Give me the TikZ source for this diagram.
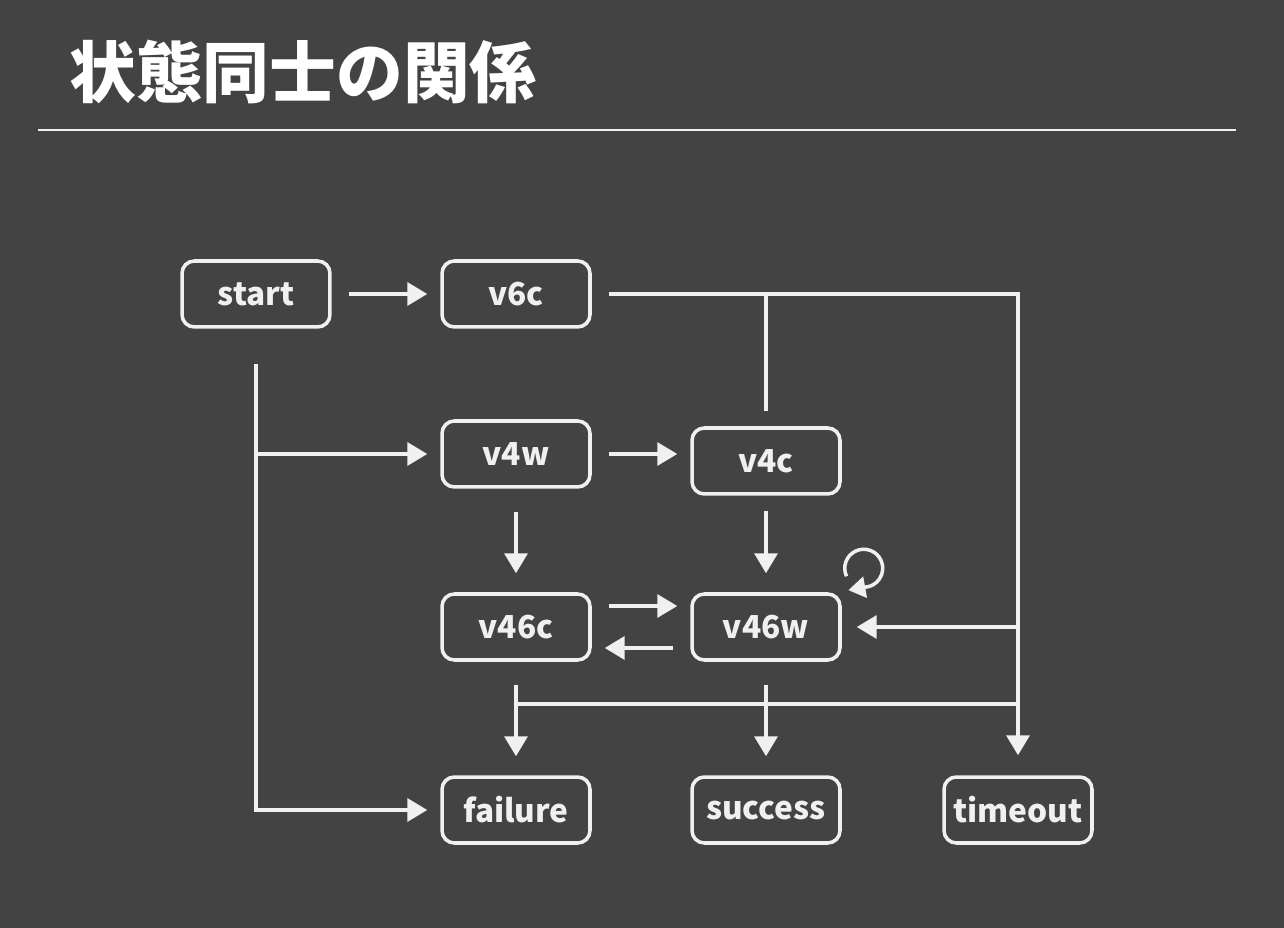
\documentclass[tikz,border=0pt]{standalone}
\usepackage{fontspec}
\setmainfont{Noto Sans CJK JP}
\usetikzlibrary{arrows.meta}
\definecolor{board}{HTML}{434343}
\definecolor{chalk}{HTML}{F0F0F0}

\begin{document}
\begin{tikzpicture}[x=0.02cm,y=-0.02cm,
    state/.style={draw=chalk,line width=2pt,rounded corners=7pt,minimum width=2.96cm,minimum height=1.32cm,text=chalk,font=\bfseries\fontsize{18}{20}\selectfont},
    link/.style={draw=chalk,line width=2pt},
    arr/.style={link,-{Triangle[length=0.4cm,width=0.46cm]}},
    hgap/.style={shorten <=0.34cm,shorten >=0.26cm},
    vgap/.style={shorten <=0.46cm,shorten >=0.38cm}]
    \fill[board] (0,0) rectangle (1284,928);
    \node[text=white,font=\bfseries\fontsize{38}{40}\selectfont] (title) at (303,72) {状態同士の関係};
    \coordinate (rulel) at (38,130);
    \coordinate (ruler) at (1236,130);
    \draw[chalk,line width=1.2pt] (rulel)--(ruler);

    \node[state] (start) at (256,294) {start};
    \node[state] (v6c) at (516,294) {v6c};
    \node[state] (v4w) at (516,454) {v4w};
    \node[state] (v4c) at (766,461) {v4c};
    \node[state] (v46c) at (516,627) {v46c};
    \node[state] (v46w) at (766,627) {v46w};
    \foreach \n/\x in {failure/516,success/766,timeout/1018}
    \node[state] (\n) at (\x,810) {\n};

    \draw[arr,hgap] (start.east)--(v6c.west);
    \draw[arr,shorten <=0.7cm,shorten >=0.26cm] (start.south) |- (failure.west);
    \draw[arr,shorten >=0.26cm] (start.south |- v4w.west)--(v4w.west);
    \draw[arr,hgap] (v4w.east)--(v4w.east -| v4c.west);
    \draw[arr,vgap] (v4w.south)--(v46c.north);
    \draw[arr,vgap,shorten <=0.3cm] (v4c.south)--(v46w.north);
    \draw[arr,hgap] ([yshift=0.42cm]v46c.east)--([yshift=0.42cm]v46w.west);
    \draw[arr,hgap] ([yshift=-0.42cm]v46w.west)--([yshift=-0.42cm]v46c.east);

    \draw[arr,shorten <=0.34cm,shorten >=0.4cm] (v6c.east) -| (timeout.north);
    \draw[link,shorten <=0.3cm] (v4c.north)--(v4c.north |- v6c.east);
    \draw[arr,shorten >=0.3cm] (timeout.north |- v46w.east)--(v46w.east);

    \coordinate (join) at ([yshift=-0.84cm]v46c.south);
    \draw[link] (join)--(join -| timeout.north);
    \draw[arr,vgap] (v46c.south)--(failure.north);
    \draw[arr,vgap] (v46w.south)--(success.north);

    \coordinate (loop) at ([xshift=0.44cm,yshift=0.48cm]v46w.north east);
    \draw[link,-{Triangle[length=0.34cm,width=0.42cm]}] (loop) ++(155:19) arc[start angle=155,end angle=445,radius=19] -- ++(-17,3);
\end{tikzpicture}
\end{document}
